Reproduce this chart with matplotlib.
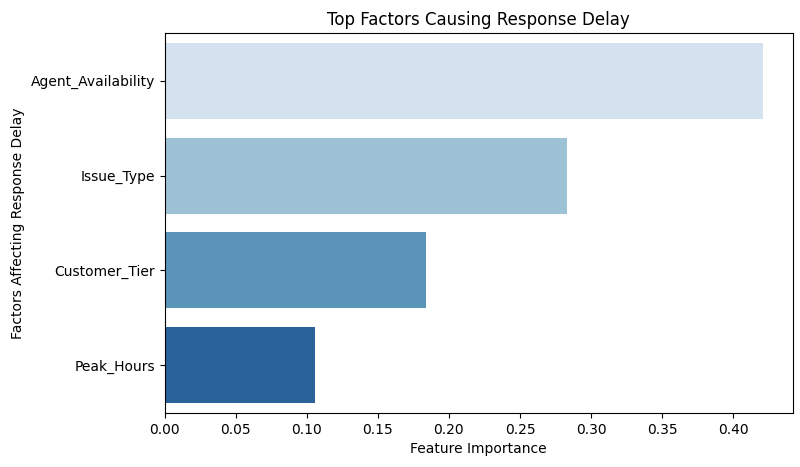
import matplotlib
matplotlib.use("Agg")
import matplotlib.pyplot as plt
import seaborn as sns
import pandas as pd

# feature importances
factors = ["Agent_Availability", "Issue_Type", "Customer_Tier", "Peak_Hours"]
importance = [0.421, 0.283, 0.184, 0.106]

df = pd.DataFrame({"Feature": factors, "Importance": importance})

fig = plt.figure(figsize=(8, 4.67), dpi=100)
ax = fig.add_axes([0.206, 0.116, 0.785, 0.813])
sns.barplot(data=df, x="Importance", y="Feature", hue="Feature",
            palette="Blues", legend=False, ax=ax)

ax.set_title("Top Factors Causing Response Delay", fontsize=12)
ax.set_xlabel("Feature Importance")
ax.set_ylabel("Factors Affecting Response Delay")

fig.savefig("out.png", dpi=100)
